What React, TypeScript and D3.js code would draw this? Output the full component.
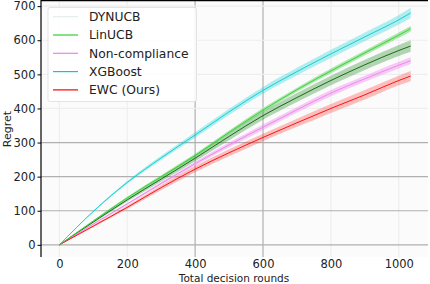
import React, { useEffect, useRef } from "react";
import * as d3 from "d3";

// rounds sampled along the x axis
const rounds = [0, 100, 200, 300, 400, 500, 600, 700, 800, 900, 1000, 1035];

// mean regret of each method
const xgboost = [0, 98, 183, 255, 322, 390, 453, 508, 560, 610, 660, 680];
const linucb = [0, 70, 138, 200, 262, 330, 395, 455, 510, 563, 615, 634];
const dynucb = [0, 67, 132, 193, 254, 318, 379, 432, 482, 528, 570, 583];
const noncompliance = [0, 61, 120, 180, 238, 293, 345, 396, 445, 487, 527, 540];
const ewc = [0, 55, 110, 168, 222, 270, 315, 358, 400, 440, 482, 495];

// half width of the shaded band
const xgboostSd = [0, 2, 4, 6, 8, 9, 10, 11, 12, 13, 14, 15];
const linucbSd = [0, 2, 3, 4, 5, 5, 6, 6, 7, 7, 8, 8];
const dynucbSd = [0, 3, 5, 7, 9, 11, 12, 13, 14, 15, 16, 17];
const noncomplianceSd = [0, 2, 3, 4, 6, 7, 8, 8, 9, 9, 10, 10];
const ewcSd = [0, 3, 5, 7, 9, 10, 11, 12, 13, 14, 14, 15];

const legendNames = ["DYNUCB", "LinUCB", "Non-compliance", "XGBoost", "EWC (Ours)"];
const xTicks = [0, 200, 400, 600, 800, 1000];
const yTicks = [0, 100, 200, 300, 400, 500, 600, 700];

export default function App() {
	const svgRef = useRef<SVGSVGElement | any>();

	useEffect(() => {
		const svg = d3.select(svgRef.current);
		svg.selectAll("*").remove();

		const left = 41, right = 428, top = 0, bottom = 257;
		const x = d3.scaleLinear().domain([-54, 1086]).range([left, right]);
		const y = d3.scaleLinear().domain([-35.6, 718]).range([bottom, top]);

		svg.append("rect")
			.attr("x", left).attr("y", top)
			.attr("width", right - left).attr("height", bottom - top)
			.attr("fill", "#fbfbfb");

		// grid: some lines darker than the rest, as in the picture
		const darkX = [400, 600];
		const darkY = [0, 100, 200, 300];
		svg.append("g").selectAll("line").data(xTicks).join("line")
			.attr("x1", (d) => x(d)).attr("x2", (d) => x(d))
			.attr("y1", top).attr("y2", bottom)
			.attr("stroke", (d) => (darkX.includes(d) ? "#b0b0b0" : "#eeeeee"))
			.attr("stroke-width", 1.2);
		svg.append("g").selectAll("line").data(yTicks).join("line")
			.attr("x1", left).attr("x2", right)
			.attr("y1", (d) => y(d)).attr("y2", (d) => y(d))
			.attr("stroke", (d) => (darkY.includes(d) ? "#b0b0b0" : "#eeeeee"))
			.attr("stroke-width", 1.2);

		const series = [
			{ mean: dynucb, sd: dynucbSd, line: "#006400", band: "#2e8b2e", op: 0.35 },
			{ mean: noncompliance, sd: noncomplianceSd, line: "#ee82ee", band: "#ee82ee", op: 0.4 },
			{ mean: ewc, sd: ewcSd, line: "#ff0000", band: "#ff3030", op: 0.3 },
			{ mean: linucb, sd: linucbSd, line: "#32cd32", band: "#32cd32", op: 0.4 },
			{ mean: xgboost, sd: xgboostSd, line: "#00cdd1", band: "#00cdd1", op: 0.3 },
		];

		const area = d3.area<number>()
			.x((_, i) => x(rounds[i]))
			.curve(d3.curveMonotoneX);
		const line = d3.line<number>()
			.x((_, i) => x(rounds[i]))
			.y((d) => y(d))
			.curve(d3.curveMonotoneX);

		series.forEach((s) => {
			svg.append("path")
				.datum(s.mean)
				.attr("d", area.y0((d, i) => y(d - s.sd[i])).y1((d, i) => y(d + s.sd[i])))
				.attr("fill", s.band)
				.attr("fill-opacity", s.op);
			svg.append("path")
				.datum(s.mean)
				.attr("d", line)
				.attr("fill", "none")
				.attr("stroke", s.line)
				.attr("stroke-width", 0.9);
		});

		// spines
		svg.append("line").attr("x1", left).attr("x2", left).attr("y1", top).attr("y2", bottom)
			.attr("stroke", "#000").attr("stroke-width", 1.2);
		svg.append("line").attr("x1", left).attr("x2", right).attr("y1", top + 0.5).attr("y2", top + 0.5)
			.attr("stroke", "#000").attr("stroke-width", 1.5);

		const font = "DejaVu Sans, sans-serif";

		const yAxis = svg.append("g").attr("transform", `translate(${left},0)`)
			.call(d3.axisLeft(y).tickValues(yTicks).tickSize(3.5).tickPadding(2));
		yAxis.select(".domain").remove();
		yAxis.selectAll("text").attr("font-family", font).attr("font-size", 11.5).attr("fill", "#222");

		const xAxis = svg.append("g").attr("transform", `translate(0,${bottom})`)
			.call(d3.axisBottom(x).tickValues(xTicks).tickFormat(d3.format("d")).tickSize(0).tickPadding(3));
		xAxis.select(".domain").remove();
		xAxis.selectAll("text").attr("font-family", font).attr("font-size", 11.5).attr("fill", "#222");

		svg.append("text")
			.attr("x", 234).attr("y", 282)
			.attr("text-anchor", "middle")
			.attr("font-family", font).attr("font-size", 10.5).attr("fill", "#222")
			.text("Total decision rounds");
		svg.append("text")
			.attr("transform", "translate(11,129) rotate(-90)")
			.attr("text-anchor", "middle")
			.attr("font-family", font).attr("font-size", 11).attr("fill", "#222")
			.text("Regret");

		// legend
		const legendColors = ["#e4eee8", "#32cd32", "#ee82ee", "#00cdd1", "#ff0000"];
		svg.append("rect")
			.attr("x", 48).attr("y", 7.5).attr("width", 148.5).attr("height", 94)
			.attr("rx", 2).attr("fill", "#ffffff").attr("fill-opacity", 0.85)
			.attr("stroke", "#dddddd").attr("stroke-width", 0.8);
		const items = svg.append("g").selectAll("g").data(legendNames).join("g")
			.attr("transform", (_, i) => `translate(0,${16.7 + i * 18.3})`);
		items.append("line")
			.attr("x1", 53).attr("x2", 78).attr("y1", 0).attr("y2", 0)
			.attr("stroke", (_, i) => legendColors[i]).attr("stroke-width", 1.2);
		items.append("text")
			.attr("x", 89).attr("y", 4.4)
			.attr("font-family", font).attr("font-size", 12.3).attr("fill", "#222")
			.text((d) => d);
	}, []);

	return (
		<svg
			ref={svgRef}
			width={430}
			height={284}
			style={{ position: "absolute", left: 0, top: 0, background: "#fff" }}
		/>
	);
}
